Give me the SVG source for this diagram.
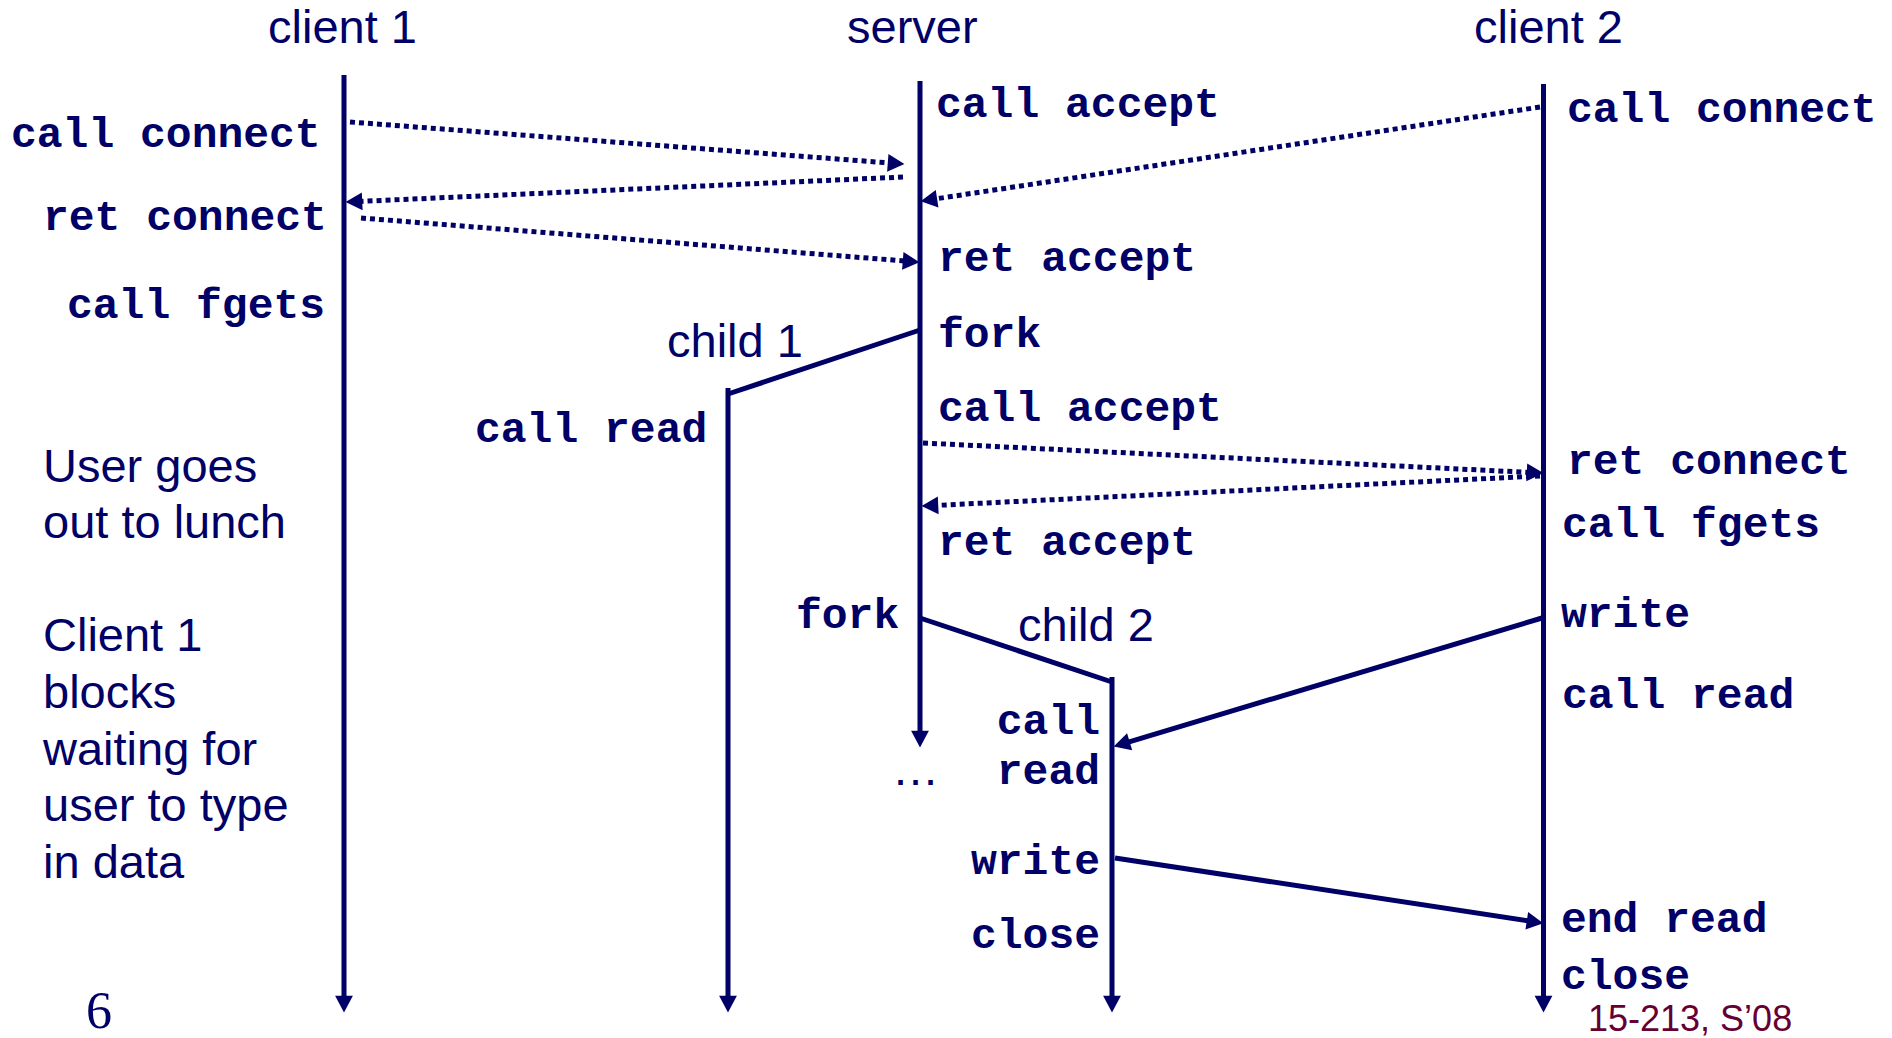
<svg xmlns="http://www.w3.org/2000/svg" width="1892" height="1038" viewBox="0 0 1892 1038">
<style>
.sans{font-family:"Liberation Sans",Arial,sans-serif;font-size:47px;fill:#000066}
.mono{font-family:"Liberation Mono","Courier New",monospace;font-size:43px;font-weight:bold;fill:#000066}
.life{stroke:#000066;stroke-width:5;fill:none}
.dot{stroke:#000066;stroke-width:5;fill:none;stroke-dasharray:5 4}
.solid{stroke:#000066;stroke-width:5;fill:none}
</style>
<defs>
<marker id="ah" markerUnits="userSpaceOnUse" markerWidth="20" markerHeight="20" viewBox="0 -9 16 18" refX="2" refY="0" orient="auto">
<path d="M0,-8 L15,0 L0,8 z" fill="#000066"/>
</marker>
</defs>
<rect width="1892" height="1038" fill="#ffffff"/>

<g id="client1">
<text class="sans" x="268" y="43">client 1</text>
<line class="life" x1="344" y1="75" x2="344" y2="998" marker-end="url(#ah)"/>
<text class="mono" x="11" y="147">call connect</text>
<text class="mono" x="43" y="230">ret connect</text>
<text class="mono" x="67" y="318">call fgets</text>
</g>

<g id="server">
<text class="sans" x="847" y="43">server</text>
<line class="life" x1="920" y1="81" x2="920" y2="733" marker-end="url(#ah)"/>
<text class="mono" x="936" y="117">call accept</text>
<text class="mono" x="938" y="271">ret accept</text>
<text class="mono" x="938" y="347">fork</text>
<text class="mono" x="938" y="421">call accept</text>
<text class="mono" x="938" y="555">ret accept</text>
<text class="mono" x="796" y="628">fork</text>
<text class="sans" x="894" y="785" letter-spacing="2">...</text>
</g>

<g id="client2">
<text class="sans" x="1474" y="43">client 2</text>
<line class="life" x1="1543.5" y1="84" x2="1543.5" y2="998" marker-end="url(#ah)"/>
<text class="mono" x="1567" y="122">call connect</text>
<text class="mono" x="1567" y="474">ret connect</text>
<text class="mono" x="1562" y="537">call fgets</text>
<text class="mono" x="1561" y="627">write</text>
<text class="mono" x="1562" y="708">call read</text>
<text class="mono" x="1561" y="932">end read</text>
<text class="mono" x="1561" y="989">close</text>
</g>

<g id="child1">
<text class="sans" x="667" y="357">child 1</text>
<line class="life" x1="920" y1="330" x2="728" y2="394"/>
<line class="life" x1="728" y1="388" x2="728" y2="998" marker-end="url(#ah)"/>
<text class="mono" x="475" y="442">call read</text>
</g>

<g id="child2">
<text class="sans" x="1018" y="641">child 2</text>
<line class="life" x1="920" y1="618" x2="1112" y2="682"/>
<line class="life" x1="1112" y1="677" x2="1112" y2="998" marker-end="url(#ah)"/>
<text class="mono" x="1100" y="734" text-anchor="end">call</text>
<text class="mono" x="1100" y="784" text-anchor="end">read</text>
<text class="mono" x="1100" y="874" text-anchor="end">write</text>
<text class="mono" x="1100" y="948" text-anchor="end">close</text>
</g>

<g id="notes">
<text class="sans" x="43" y="482">User goes</text>
<text class="sans" x="43" y="538">out to lunch</text>
<text class="sans" x="43" y="651">Client 1</text>
<text class="sans" x="43" y="708">blocks</text>
<text class="sans" x="43" y="765">waiting for</text>
<text class="sans" x="43" y="821">user to type</text>
<text class="sans" x="43" y="878">in data</text>
</g>

<g id="footer">
<text x="86" y="1028" style="font-family:'Liberation Serif','Times New Roman',serif;font-size:52px;fill:#000066">6</text>
<text x="1588" y="1031" style="font-family:'Liberation Sans',Arial,sans-serif;font-size:36px;fill:#660033">15-213, S’08</text>
</g>

<g id="connectors">
<line class="dot" x1="350" y1="122" x2="890" y2="163" marker-end="url(#ah)"/>
<line class="dot" x1="903" y1="177" x2="360" y2="201.4" marker-end="url(#ah)"/>
<line class="dot" x1="361" y1="218" x2="905" y2="261" marker-end="url(#ah)"/>
<line class="dot" x1="1540" y1="107" x2="934.9" y2="199" marker-end="url(#ah)"/>
<line class="dot" x1="923" y1="443" x2="1529" y2="472.4" marker-end="url(#ah)"/>
<line class="dot" x1="1540" y1="476" x2="936" y2="505.4" marker-end="url(#ah)"/>
<line class="solid" x1="1542" y1="618" x2="1127.5" y2="742.3" marker-end="url(#ah)"/>
<line class="solid" x1="1115" y1="858" x2="1529" y2="921" marker-end="url(#ah)"/>
</g>
</svg>
